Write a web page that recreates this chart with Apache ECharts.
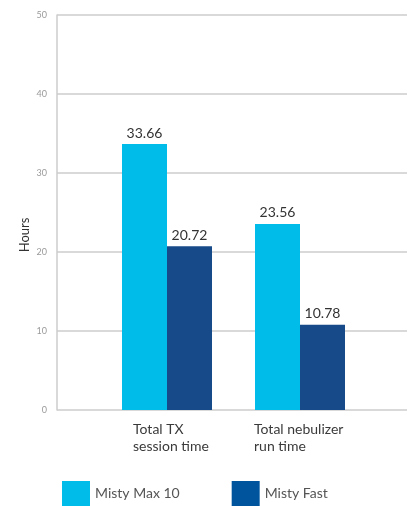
<!DOCTYPE html>
<html>
<head>
<meta charset="utf-8">
<script src="https://cdn.jsdelivr.net/npm/echarts@6/dist/echarts.min.js"></script>
<style>
html,body{margin:0;padding:0;background:#fff;}
#chart{width:411px;height:506px;}
</style>
</head>
<body>
<div id="chart"></div>
<script>
const categories = ['Total TX\nsession time', 'Total nebulizer\nrun time'];
const seriesNames = ['Misty Max 10', 'Misty Fast'];
const mistyMax10 = [33.66, 23.56];
const mistyFast = [20.72, 10.78];
const yTicks = [0, 10, 20, 30, 40, 50];

const FONT = 'Lato, "Noto Sans", sans-serif';
const C1 = '#00bce8';
const C2 = '#174a89';
const labelWidths = [68, 92];

const chart = echarts.init(document.getElementById('chart'), null, {renderer: 'canvas'});
chart.setOption({
  animation: false,
  textStyle: {fontFamily: FONT},
  grid: [
    {left: 57, right: 4, top: 15, bottom: 96},
    {left: 100.5, right: 44.5, top: 15, bottom: 96}
  ],
  xAxis: [
    {gridIndex: 0, type: 'value', min: 0, max: 1, show: false},
    {
      gridIndex: 1, type: 'category', data: categories,
      axisLine: {show: false}, axisTick: {show: false},
      axisLabel: {
        margin: 11,
        formatter: function (v, i) {
          return v.split('\n').map(function (l) { return '{c' + i + '|' + l + '}'; }).join('\n');
        },
        rich: {
          c0: {width: labelWidths[0], align: 'left', fontSize: 14, lineHeight: 17, color: '#3a3a3a', fontFamily: FONT},
          c1: {width: labelWidths[1], align: 'left', fontSize: 14, lineHeight: 17, color: '#3a3a3a', fontFamily: FONT}
        }
      }
    }
  ],
  yAxis: [
    {
      gridIndex: 0, type: 'value', min: yTicks[0], max: yTicks[yTicks.length - 1], interval: 10,
      axisLine: {show: true, lineStyle: {color: '#cccccc', width: 1.5}},
      axisTick: {show: false},
      axisLabel: {margin: 10, fontSize: 9, color: '#9a9a9a', fontFamily: FONT},
      splitLine: {show: true, lineStyle: {color: '#cccccc', width: 1.5}}
    },
    {gridIndex: 1, type: 'value', min: 0, max: 50, interval: 10, show: false, splitLine: {show: false}}
  ],
  legend: {
    left: 62, top: 481, padding: 0,
    icon: 'rect', itemWidth: 28, itemHeight: 25, itemGap: 52,
    textStyle: {fontSize: 14, color: '#555555', fontFamily: FONT, padding: [0, 0, 0, 0]},
    data: [
      {name: seriesNames[0], itemStyle: {color: C1}},
      {name: seriesNames[1], itemStyle: {color: '#00549e'}}
    ]
  },
  graphic: [{
    type: 'text', x: 25, y: 235, rotation: Math.PI / 2,
    style: {text: 'Hours', fontSize: 13, fill: '#333333', fontFamily: FONT, align: 'center', verticalAlign: 'middle'}
  }],
  series: [
    {
      name: seriesNames[0], type: 'bar', xAxisIndex: 1, yAxisIndex: 1,
      data: mistyMax10, barWidth: 45, barGap: '0%',
      itemStyle: {color: C1},
      label: {show: true, position: 'top', distance: 4, fontSize: 14, color: '#333333', fontFamily: FONT}
    },
    {
      name: seriesNames[1], type: 'bar', xAxisIndex: 1, yAxisIndex: 1,
      data: mistyFast, barWidth: 45, barGap: '0%',
      itemStyle: {color: C2},
      label: {show: true, position: 'top', distance: 4, fontSize: 14, color: '#333333', fontFamily: FONT}
    }
  ]
});
</script>
</body>
</html>
